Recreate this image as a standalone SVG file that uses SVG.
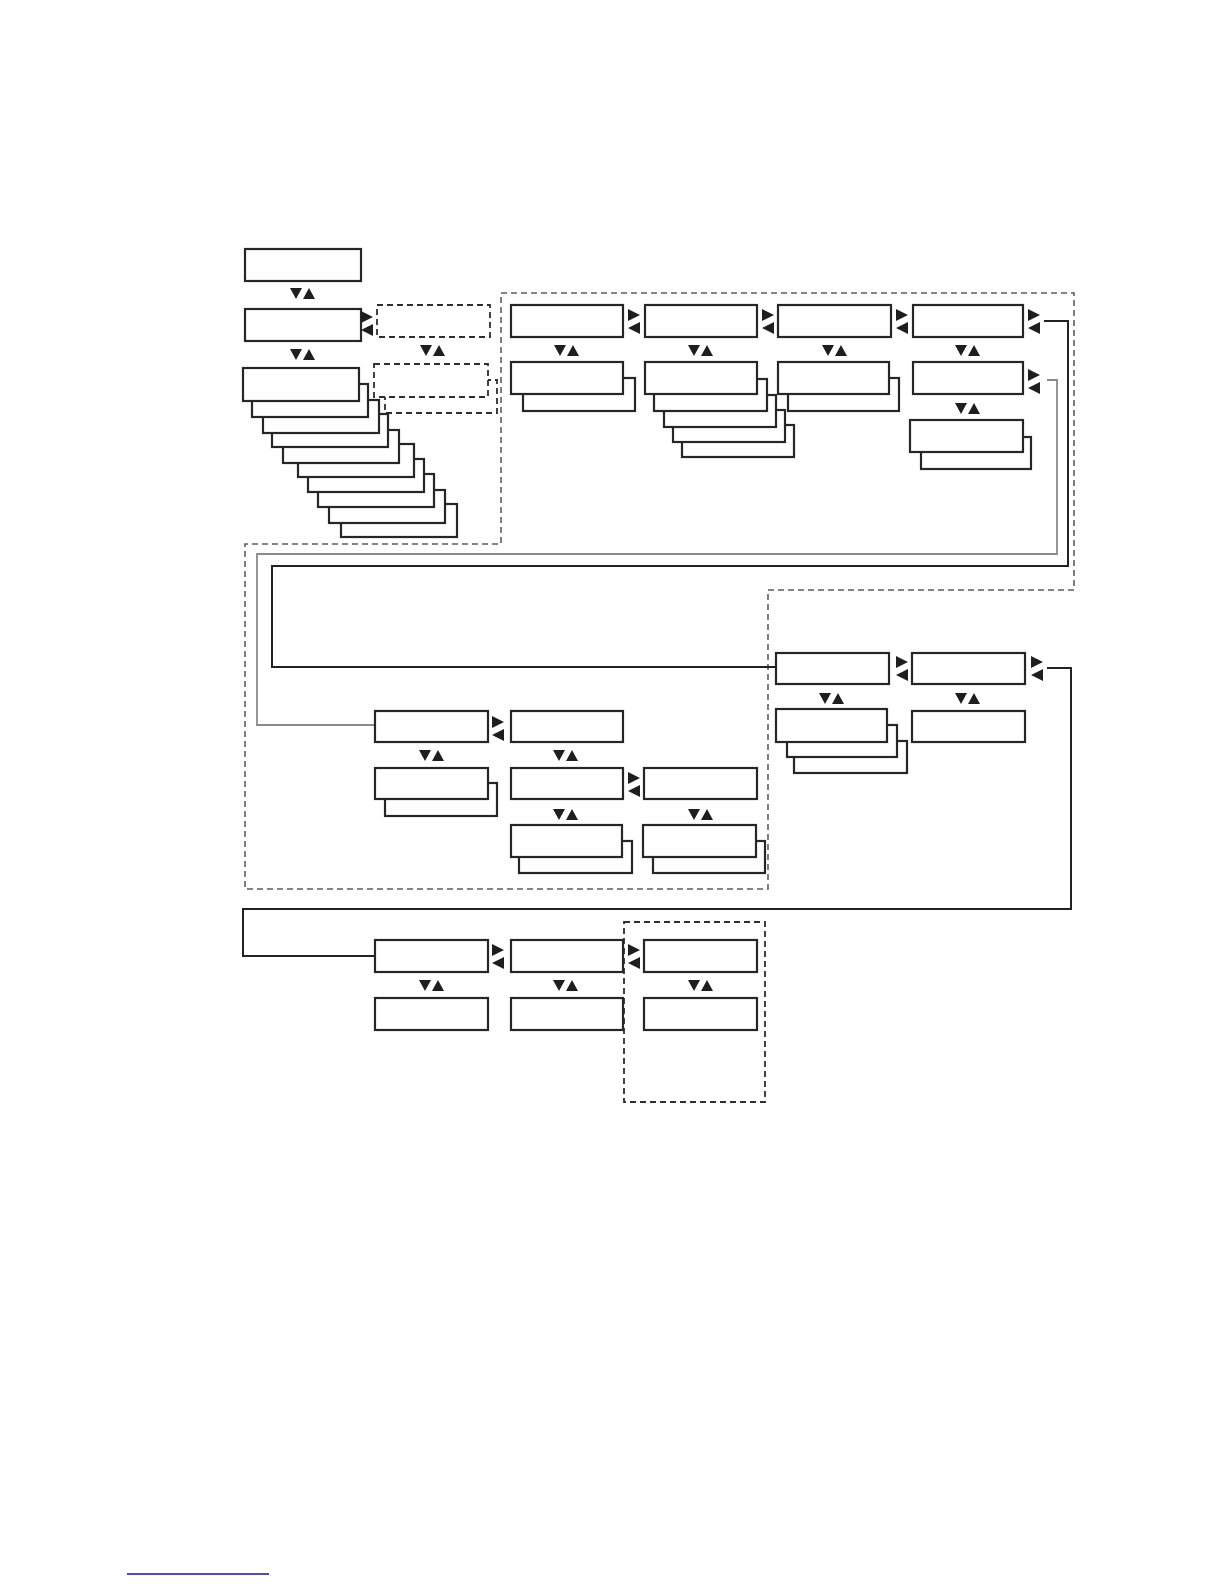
<svg xmlns="http://www.w3.org/2000/svg" xmlns:xlink="http://www.w3.org/1999/xlink" width="1224" height="1584" viewBox="0 0 1224 1584">
<style>
.b{fill:#fff;stroke:#262626;stroke-width:2.2}
.d{fill:#fff;stroke:#2e2e2e;stroke-width:1.8;stroke-dasharray:6 4}
.rg{fill:none;stroke:#5e5e5e;stroke-width:1.6;stroke-dasharray:6 4}
.ck{fill:none;stroke:#222;stroke-width:2}
.cg{fill:none;stroke:#8a8a8a;stroke-width:1.8}
.t{fill:#1e1e1e}
</style>
<defs>
<g id="ud"><path class="t" d="M0,0 L12,0 L6,11 Z M13,11 L19,0 L25,11 Z"/></g>
<g id="lr"><path class="t" d="M0,-1 L12,5 L0,11 Z M12,12 L0,18 L12,24 Z"/></g>
</defs>
<rect width="1224" height="1584" fill="#fff"/>

<g id="regions">
<polygon class="rg" points="501,293 1074,293 1074,590 768,590 768,889 245,889 245,544 501,544"/>
<rect class="d" x="624" y="922" width="141" height="180" style="fill:none"/>
</g>

<g id="connectors">
<polyline class="cg" points="1047,380 1057,380 1057,554 257,554 257,725 375,725"/>
<polyline class="ck" points="1044,321 1068,321 1068,566 272,566 272,667 776,667"/>
<polyline class="ck" points="1047,668 1071,668 1071,909 243,909 243,956 375,956"/>
</g>

<g id="n-t1"><rect class="b" x="245" y="249" width="116" height="32"/></g>
<use href="#ud" x="290" y="288"/>
<g id="n-t2"><rect class="b" x="245" y="309" width="116" height="32"/></g>
<use href="#lr" x="361" y="312"/>
<use href="#ud" x="290" y="349"/>
<g id="n-da"><rect class="d" x="377" y="305" width="113" height="32"/></g>
<use href="#ud" x="420" y="345"/>
<g id="n-db"><rect class="d" x="385" y="380" width="112" height="33"/><rect class="d" x="374" y="364" width="114" height="33"/></g>

<g id="n-stack">
<rect class="b" x="341" y="504" width="116" height="33"/>
<rect class="b" x="329" y="490" width="116" height="33"/>
<rect class="b" x="318" y="474" width="116" height="33"/>
<rect class="b" x="308" y="459" width="116" height="33"/>
<rect class="b" x="298" y="444" width="116" height="33"/>
<rect class="b" x="283" y="430" width="116" height="33"/>
<rect class="b" x="272" y="414" width="116" height="33"/>
<rect class="b" x="263" y="400" width="116" height="33"/>
<rect class="b" x="252" y="384" width="116" height="33"/>
<rect class="b" x="243" y="368" width="116" height="33"/>
</g>

<g id="n-c1"><rect class="b" x="511" y="305" width="112" height="32"/></g>
<use href="#lr" x="628" y="310"/>
<g id="n-c2"><rect class="b" x="645" y="305" width="112" height="32"/></g>
<use href="#lr" x="762" y="310"/>
<g id="n-c3"><rect class="b" x="778" y="305" width="113" height="32"/></g>
<use href="#lr" x="896" y="310"/>
<g id="n-c4"><rect class="b" x="913" y="305" width="110" height="32"/></g>
<use href="#lr" x="1028" y="310"/>
<use href="#ud" x="554" y="345"/>
<use href="#ud" x="688" y="345"/>
<use href="#ud" x="822" y="345"/>
<use href="#ud" x="955" y="345"/>

<g id="n-c1r2">
<rect class="b" x="523" y="378" width="112" height="33"/>
<rect class="b" x="511" y="362" width="112" height="32"/>
</g>
<g id="n-c2r2">
<rect class="b" x="682" y="425" width="112" height="32"/>
<rect class="b" x="673" y="410" width="112" height="32"/>
<rect class="b" x="664" y="395" width="112" height="32"/>
<rect class="b" x="654" y="379" width="113" height="32"/>
<rect class="b" x="645" y="362" width="112" height="32"/>
</g>
<g id="n-c3r2">
<rect class="b" x="788" y="378" width="111" height="33"/>
<rect class="b" x="778" y="362" width="111" height="32"/>
</g>
<g id="n-c4r2"><rect class="b" x="913" y="362" width="110" height="32"/></g>
<use href="#lr" x="1028" y="370"/>
<use href="#ud" x="955" y="403"/>
<g id="n-c4r3">
<rect class="b" x="921" y="437" width="110" height="32"/>
<rect class="b" x="910" y="420" width="113" height="32"/>
</g>

<g id="n-l1"><rect class="b" x="375" y="711" width="113" height="31"/></g>
<use href="#lr" x="492" y="717"/>
<g id="n-l2"><rect class="b" x="511" y="711" width="112" height="31"/></g>
<use href="#ud" x="419" y="750"/>
<use href="#ud" x="553" y="750"/>
<g id="n-l1r2">
<rect class="b" x="385" y="783" width="112" height="33"/>
<rect class="b" x="375" y="768" width="113" height="31"/>
</g>
<g id="n-l2r2"><rect class="b" x="511" y="768" width="112" height="31"/></g>
<use href="#lr" x="628" y="773"/>
<g id="n-l3r2"><rect class="b" x="644" y="768" width="113" height="31"/></g>
<use href="#ud" x="553" y="809"/>
<use href="#ud" x="688" y="809"/>
<g id="n-l2r3">
<rect class="b" x="519" y="841" width="113" height="32"/>
<rect class="b" x="511" y="825" width="111" height="32"/>
</g>
<g id="n-l3r3">
<rect class="b" x="653" y="841" width="112" height="32"/>
<rect class="b" x="643" y="825" width="113" height="32"/>
</g>

<g id="n-r1"><rect class="b" x="776" y="653" width="113" height="31"/></g>
<use href="#lr" x="896" y="657"/>
<g id="n-r2"><rect class="b" x="912" y="653" width="113" height="31"/></g>
<use href="#lr" x="1031" y="657"/>
<use href="#ud" x="819" y="693"/>
<use href="#ud" x="955" y="693"/>
<g id="n-r1r2">
<rect class="b" x="794" y="741" width="113" height="32"/>
<rect class="b" x="787" y="725" width="110" height="32"/>
<rect class="b" x="776" y="709" width="111" height="33"/>
</g>
<g id="n-r2r2"><rect class="b" x="912" y="711" width="113" height="31"/></g>

<g id="n-b1"><rect class="b" x="375" y="940" width="113" height="32"/></g>
<use href="#lr" x="492" y="945"/>
<g id="n-b2"><rect class="b" x="511" y="940" width="112" height="32"/></g>
<use href="#lr" x="628" y="945"/>
<g id="n-b3"><rect class="b" x="644" y="940" width="113" height="32"/></g>
<use href="#ud" x="419" y="980"/>
<use href="#ud" x="553" y="980"/>
<use href="#ud" x="688" y="980"/>
<g id="n-b1r2"><rect class="b" x="375" y="998" width="113" height="32"/></g>
<g id="n-b2r2"><rect class="b" x="511" y="998" width="112" height="32"/></g>
<g id="n-b3r2"><rect class="b" x="644" y="998" width="113" height="32"/></g>

<line x1="127" y1="1574" x2="269" y2="1574" stroke="#14148f" stroke-width="1.5"/>
</svg>
